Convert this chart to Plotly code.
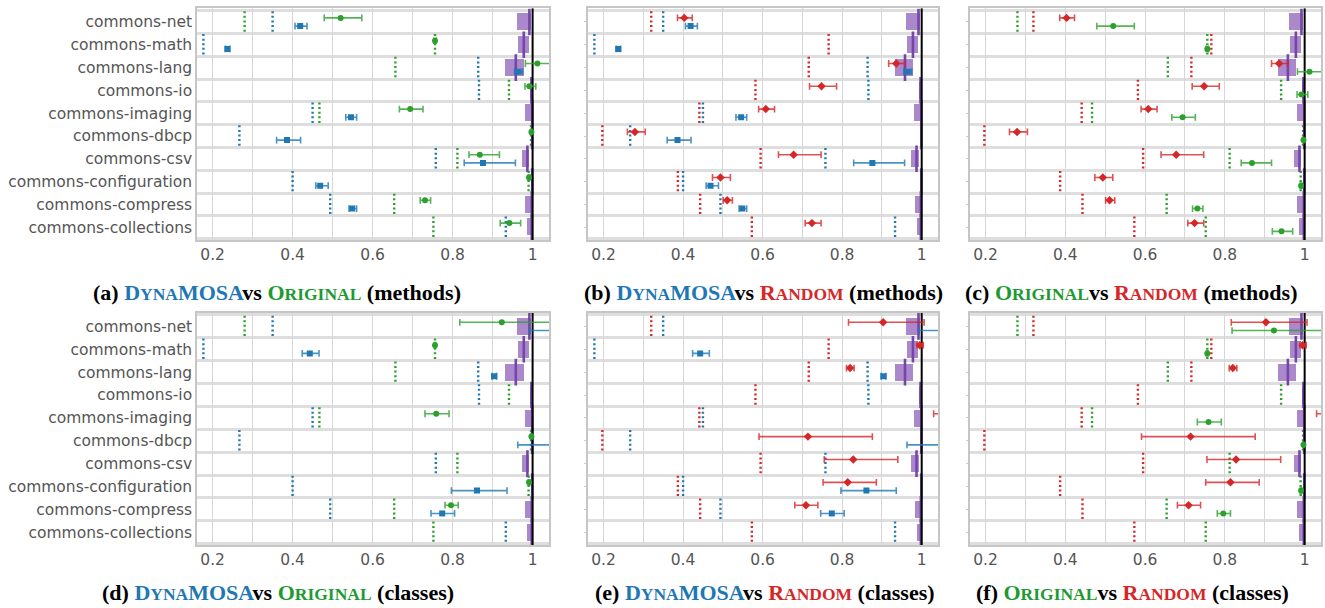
import plotly.graph_objects as go

W, H = 1325, 608

categories = ["commons-net", "commons-math", "commons-lang", "commons-io", "commons-imaging",
              "commons-dbcp", "commons-csv", "commons-configuration", "commons-compress",
              "commons-collections"]

# dotted reference values (same in every panel)
dyna_ref = [0.350, 0.177, 0.864, 0.866, 0.450, 0.267, 0.758, 0.400, 0.494, 0.933]
orig_ref = [0.280, 0.756, 0.657, 0.941, 0.467, 0.996, 0.812, 0.990, 0.654, 0.752]
rand_ref = [0.320, 0.766, 0.716, 0.582, 0.441, 0.197, 0.595, 0.387, 0.443, 0.573]

# purple boxes (range + median)
box_lo = [0.960, 0.963, 0.932, 0.993, 0.981, 0.996, 0.974, 0.995, 0.982, 0.987]
box_hi = [0.996, 0.991, 0.979, 1.000, 1.000, 1.000, 0.992, 1.000, 1.000, 1.000]
box_med = [0.992, 0.978, 0.958, 0.997, 0.999, 0.999, 0.987, 0.999, 0.998, 0.998]

# ---- methods ----
dyna_m = [0.419, 0.237, 0.965, None, 0.546, 0.386, 0.876, 0.469, 0.549, None]
dyna_m_lo = [0.406, 0.232, 0.955, None, 0.533, 0.360, 0.829, 0.458, 0.541, None]
dyna_m_hi = [0.436, 0.243, 0.975, None, 0.560, 0.420, 0.957, 0.489, 0.560, None]

orig_m = [0.520, 0.756, 1.012, 0.992, 0.694, 0.997, 0.868, 0.991, 0.731, 0.942]
orig_m_lo = [0.479, 0.753, 0.982, 0.981, 0.667, 0.995, 0.841, 0.989, 0.719, 0.919]
orig_m_hi = [0.573, 0.759, 1.060, 1.008, 0.726, 0.999, 0.917, 0.993, 0.745, 0.970]

rand_m = [0.403, None, 0.936, 0.748, 0.608, 0.279, 0.678, 0.494, 0.511, 0.724]
rand_m_lo = [0.386, None, 0.917, 0.718, 0.590, 0.260, 0.640, 0.474, 0.501, 0.707]
rand_m_hi = [0.423, None, 0.957, 0.786, 0.630, 0.305, 0.747, 0.519, 0.524, 0.747]

# ---- classes ----
dyna_c = [1.080, 0.443, 0.904, None, None, 1.080, None, 0.861, 0.774, None]
dyna_c_lo = [0.993, 0.424, 0.898, None, None, 0.963, None, 0.797, 0.746, None]
dyna_c_hi = [1.200, 0.466, 0.910, None, None, 1.200, None, 0.936, 0.805, None]

orig_c = [0.923, 0.756, None, None, 0.759, 0.997, None, 0.991, 0.796, None]
orig_c_lo = [0.818, 0.754, None, None, 0.731, 0.995, None, 0.989, 0.781, None]
orig_c_hi = [1.080, 0.758, None, None, 0.791, 0.999, None, 0.993, 0.814, None]

rand_c = [0.903, 0.995, 0.820, None, 1.100, 0.714, 0.828, 0.814, 0.709, None]
rand_c_lo = [0.816, 0.988, 0.811, None, 1.030, 0.591, 0.755, 0.752, 0.681, None]
rand_c_hi = [1.006, 1.004, 0.830, None, 1.200, 0.876, 0.940, 0.886, 0.739, None]

xtick_vals = [0.2, 0.3, 0.4, 0.5, 0.6, 0.7, 0.8, 0.9, 1.0]
xtick_text = ["0.2", "", "0.4", "", "0.6", "", "0.8", "", "1"]

BLUE, GREEN, RED = "#1f77b4", "#2ca02c", "#d62728"
ERR = {"dyna": "rgba(31,119,180,0.8)", "orig": "rgba(44,160,44,0.8)", "rand": "rgba(214,39,40,0.8)"}
COL = {"dyna": BLUE, "orig": GREEN, "rand": RED}
SYM = {"dyna": "square", "orig": "circle", "rand": "diamond"}
SIZE = {"dyna": 6, "orig": 6, "rand": 6.5}
REF = {"dyna": dyna_ref, "orig": orig_ref, "rand": rand_ref}
DATA = {
    ("methods", "dyna"): (dyna_m, dyna_m_lo, dyna_m_hi),
    ("methods", "orig"): (orig_m, orig_m_lo, orig_m_hi),
    ("methods", "rand"): (rand_m, rand_m_lo, rand_m_hi),
    ("classes", "dyna"): (dyna_c, dyna_c_lo, dyna_c_hi),
    ("classes", "orig"): (orig_c, orig_c_lo, orig_c_hi),
    ("classes", "rand"): (rand_c, rand_c_lo, rand_c_hi),
}

# panel: (row kind, upper method, lower method, col, row)
panels = [
    ("methods", "orig", "dyna", 0, 0, "a"),
    ("methods", "rand", "dyna", 1, 0, "b"),
    ("methods", "rand", "orig", 2, 0, "c"),
    ("classes", "orig", "dyna", 0, 1, "d"),
    ("classes", "rand", "dyna", 1, 1, "e"),
    ("classes", "rand", "orig", 2, 1, "f"),
]

col_px = [(197, 549), (588, 938), (970, 1321)]
row_px = [(8.3, 240), (312.7, 545)]
YR = [9.56, -0.6]
OFF = 0.18

fig = go.Figure()
layout = {}
n = len(categories)
idx = list(range(n))

for k, (kind, up, low, c, r, letter) in enumerate(panels):
    sx = "" if k == 0 else str(k + 1)
    xa, ya = "x" + sx, "y" + sx
    x0, x1 = col_px[c]
    y0, y1 = row_px[r]
    layout["xaxis" + sx] = dict(
        domain=[x0 / W, x1 / W], anchor=ya, range=[0.161, 1.041],
        tickmode="array", tickvals=xtick_vals, ticktext=xtick_text,
        showgrid=True, gridcolor="#d6d6d6", gridwidth=1.2, zeroline=False,
        showline=True, mirror=True, linecolor="#c6c6c6", linewidth=1.5,
        ticks="", tickfont=dict(family="DejaVu Sans", size=15.5, color="#555555"),
    )
    layout["yaxis" + sx] = dict(
        domain=[1 - y1 / H, 1 - y0 / H], anchor=xa, range=YR,
        tickmode="array", tickvals=idx,
        ticktext=categories if c == 0 else [""] * n,
        showticklabels=(c == 0),
        showgrid=False, zeroline=False,
        showline=True, mirror=True, linecolor="#c6c6c6", linewidth=1.5,
        ticks="" if c == 0 else "outside", ticklen=2, tickcolor="#cccccc",
        tickfont=dict(family="DejaVu Sans", size=15.5, color="#555555"),
        minor=dict(tickmode="array", tickvals=[i + 0.5 for i in range(-1, n)],
                   showgrid=True, gridcolor="#dedede", gridwidth=2.5, ticks=""),
    )

    # dotted reference lines
    for m in (up, low):
        xs, ys = [], []
        for i, v in enumerate(REF[m]):
            xs += [v, v, None]
            ys += [i - 0.47, i + 0.47, None]
        fig.add_trace(go.Scatter(x=xs, y=ys, mode="lines", xaxis=xa, yaxis=ya,
                                 line=dict(color=COL[m], width=2.4, dash="2px,2.6px"),
                                 showlegend=False, hoverinfo="skip"))

    # purple boxes
    fig.add_trace(go.Bar(
        x=[h - l for l, h in zip(box_lo, box_hi)], base=box_lo, y=idx, orientation="h",
        width=0.74, marker=dict(color="rgba(148,103,189,0.78)", line=dict(width=0)),
        xaxis=xa, yaxis=ya, showlegend=False, hoverinfo="skip"))
    fig.add_trace(go.Scatter(
        x=box_med, y=idx, mode="markers", xaxis=xa, yaxis=ya,
        marker=dict(symbol="line-ns", size=19, line=dict(color="#7446a8", width=2.6)),
        showlegend=False, hoverinfo="skip"))

    # black reference line at 1
    fig.add_trace(go.Scatter(x=[1, 1], y=YR, mode="lines", xaxis=xa, yaxis=ya,
                             line=dict(color="black", width=2), showlegend=False, hoverinfo="skip"))

    # points with error bars
    for m, off in ((up, -OFF), (low, OFF)):
        v, lo, hi = DATA[(kind, m)]
        xs, ys, ep, em = [], [], [], []
        for i in range(n):
            if v[i] is None:
                continue
            xs.append(v[i]); ys.append(i + off)
            ep.append(hi[i] - v[i]); em.append(v[i] - lo[i])
        fig.add_trace(go.Scatter(
            x=xs, y=ys, mode="markers", xaxis=xa, yaxis=ya,
            marker=dict(symbol=SYM[m], size=SIZE[m], color=COL[m]),
            error_x=dict(type="data", symmetric=False, array=ep, arrayminus=em,
                         color=ERR[m], thickness=1.6, width=3.4),
            showlegend=False, hoverinfo="skip"))

# captions
FS, SC = 22, 17.5


def name(m):
    if m == "dyna":
        return (f"<span style='color:{BLUE}'>D</span><span style='color:{BLUE};font-size:{SC}px'>YNA</span>"
                f"<span style='color:{BLUE}'>MOSA</span>")
    if m == "orig":
        return (f"<span style='color:#1e9a32'>O</span><span style='color:#1e9a32;font-size:{SC}px'>RIGINAL</span>")
    return (f"<span style='color:{RED}'>R</span><span style='color:{RED};font-size:{SC}px'>ANDOM</span>")


cap_specs = [
    ("a", "dyna", "orig", "methods", 277, 292),
    ("b", "dyna", "rand", "methods", 763, 292),
    ("c", "orig", "rand", "methods", 1131, 292),
    ("d", "dyna", "orig", "classes", 278, 592),
    ("e", "dyna", "rand", "classes", 765, 592),
    ("f", "orig", "rand", "classes", 1132, 592),
]
annotations = []
for letter, m1, m2, kind, cx, cy in cap_specs:
    txt = f"<b>({letter}) {name(m1)}vs {name(m2)} ({kind})</b>"
    annotations.append(dict(text=txt, x=cx / W, y=1 - cy / H, xref="paper", yref="paper",
                            xanchor="center", yanchor="middle", showarrow=False,
                            font=dict(family="Liberation Serif", size=FS, color="black")))

fig.update_layout(
    width=W, height=H, autosize=False,
    margin=dict(l=0, r=0, t=0, b=0),
    paper_bgcolor="white", plot_bgcolor="white",
    showlegend=False, bargap=0, annotations=annotations,
    **layout,
)

fig.write_html("out.html", config={"displayModeBar": False},
               post_script="document.body.style.margin='0px';document.body.style.overflow='hidden';")
